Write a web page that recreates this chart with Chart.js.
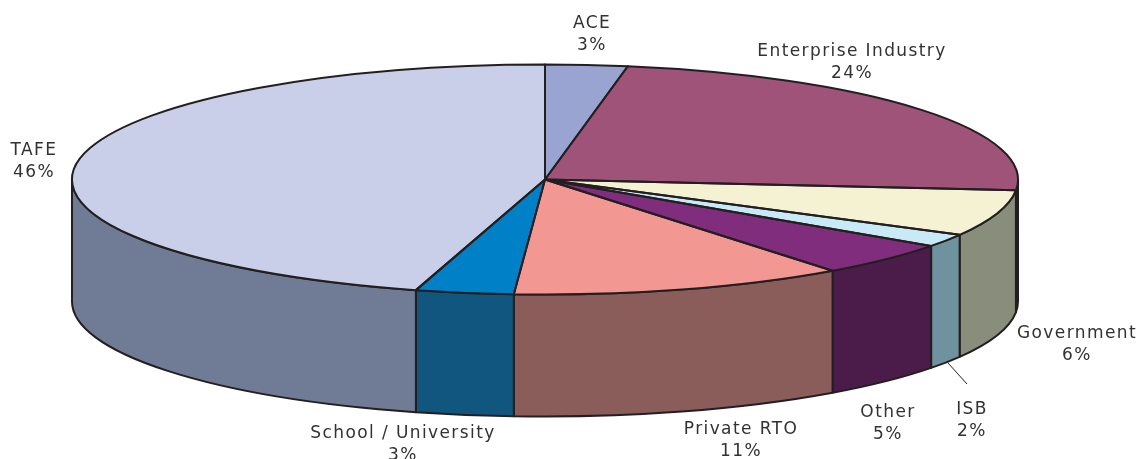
<!DOCTYPE html>
<html>
<head>
<meta charset="utf-8">
<title>Pie</title>
<script src="https://cdn.jsdelivr.net/npm/chart.js@4/dist/chart.umd.min.js"></script>
<style>
  html, body { margin: 0; padding: 0; background: #fff; }
  #wrap { width: 1141px; height: 459px; }
</style>
</head>
<body>
<div id="wrap"><canvas id="pie" width="1141" height="459"></canvas></div>
<script>
// values, printed labels are the rounded ones
const categories = ['ACE', 'Enterprise Industry', 'Government', 'ISB', 'Other', 'Private RTO', 'School / University', 'TAFE'];
const shares = [2.8, 23.7, 6.49, 1.81, 4.8, 11.45, 3.35, 45.6];
const topColors = ['#99A4D1', '#A05378', '#F4F2D2', '#C8EAF6', '#7F2D7C', '#F39792', '#0080C6', '#CACFE9'];
const wallColors = ['#6B7392', '#4A2236', '#888D7C', '#6F939E', '#4B1C4A', '#8B5D5A', '#10567F', '#707C96'];

// where the flattened pie sits on the page
const disc = { x: 545, y: 179.5, rx: 473, ry: 115, depth: 122 };
const ink = '#231F20';

// label centres, one per category
const labelSpots = [[592, 24], [852, 52], [1077, 334], [972, 410], [888, 413], [741, 430], [403, 434], [34, 151]];
const lineGap = 22;

function screenRadius(arc) {
  return { sx: disc.rx / arc.outerRadius, sy: disc.ry / arc.outerRadius };
}

const flatPie = {
  id: 'flatPie',
  beforeDatasetsDraw(chart) {
    const ctx = chart.ctx;
    const arcs = chart.getDatasetMeta(0).data;
    // side walls first, only the front half of the rim shows
    arcs.forEach((arc, i) => {
      const a = Math.max(arc.startAngle, 0);
      const b = Math.min(arc.endAngle, Math.PI);
      if (b <= a) return;
      ctx.beginPath();
      ctx.ellipse(disc.x, disc.y, disc.rx, disc.ry, 0, a, b);
      ctx.ellipse(disc.x, disc.y + disc.depth, disc.rx, disc.ry, 0, b, a, true);
      ctx.closePath();
      ctx.fillStyle = wallColors[i];
      ctx.fill();
      ctx.strokeStyle = ink;
      ctx.lineWidth = 2;
      ctx.lineJoin = 'round';
      ctx.stroke();
    });
    const first = arcs[0];
    const s = screenRadius(first);
    ctx.save();
    ctx.translate(disc.x, disc.y);
    ctx.scale(s.sx, s.sy);
    ctx.translate(-first.x, -first.y);
  },
  afterDatasetsDraw(chart) {
    const ctx = chart.ctx;
    ctx.restore();
    // outlines are stroked here so the pen is not squashed with the disc
    chart.getDatasetMeta(0).data.forEach(arc => {
      ctx.beginPath();
      ctx.moveTo(disc.x, disc.y);
      ctx.ellipse(disc.x, disc.y, disc.rx, disc.ry, 0, arc.startAngle, arc.endAngle);
      ctx.closePath();
      ctx.strokeStyle = ink;
      ctx.lineWidth = 2;
      ctx.lineJoin = 'round';
      ctx.stroke();
    });

    // leader for ISB
    ctx.beginPath();
    ctx.moveTo(948, 363);
    ctx.lineTo(967, 384);
    ctx.strokeStyle = ink;
    ctx.lineWidth = 1;
    ctx.stroke();

    ctx.font = '17px "DejaVu Sans"';
    ctx.letterSpacing = '1.4px';
    ctx.fillStyle = '#333132';
    ctx.textAlign = 'center';
    ctx.textBaseline = 'middle';
    categories.forEach((name, i) => {
      const [lx, ly] = labelSpots[i];
      ctx.fillText(name, lx, ly);
      ctx.fillText(Math.round(shares[i]) + '%', lx, ly + lineGap);
    });
  }
};

new Chart(document.getElementById('pie'), {
  type: 'pie',
  data: {
    labels: categories,
    datasets: [{
      data: shares,
      backgroundColor: topColors,
      borderWidth: 0,
      clip: false
    }]
  },
  options: {
    responsive: false,
    animation: false,
    layout: { padding: 0 },
    plugins: {
      legend: { display: false },
      tooltip: { enabled: false }
    }
  },
  plugins: [flatPie]
});
</script>
</body>
</html>
